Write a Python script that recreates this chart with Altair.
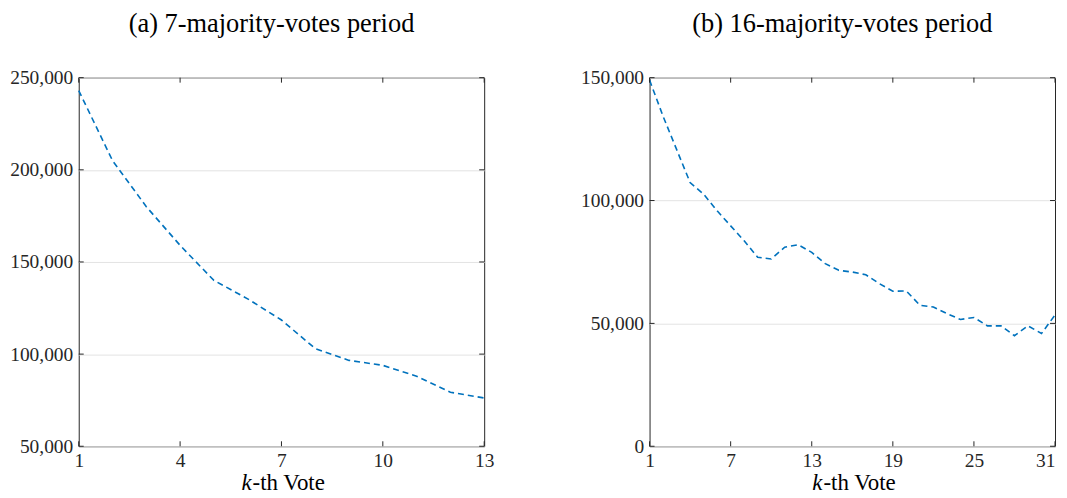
import altair as alt
import pandas as pd

FONT = "Liberation Serif"
LINE_COLOR = "#0072BD"
FRAME = "#262626"

# ---- data ----
k_a = list(range(1, 14))
v_a = [243000, 205000, 180000, 159000, 140000, 130000, 118500, 103000,
       96600, 93900, 88000, 79300, 76200]
k_b = list(range(1, 32))
v_b = [149000, 134300, 120800, 107300, 102600, 95800, 89700, 83600, 76900,
       76200, 81000, 82000, 78900, 74300, 71600, 70900, 69800, 66200, 63100,
       63200, 57400, 56700, 54000, 51600, 52400, 49000, 49000, 45000, 49000,
       45900, 53400]
xticks_a = [1, 4, 7, 10, 13]
yticks_a = [50000, 100000, 150000, 200000, 250000]
xticks_b = [1, 7, 13, 19, 25, 31]
yticks_b = [0, 50000, 100000, 150000]
title_a = "(a) 7-majority-votes period"
title_b = "(b) 16-majority-votes period"
xlabel_italic = "k"
xlabel_rest = "-th Vote"

W, H = 407, 370
TICK = 5
LBL = 19.5
XT = 23


def panel(k, v, xticks, yticks, xdom, ydom, title, last_right=False):
    df = pd.DataFrame({"k": k, "v": v})
    xs = alt.Scale(domain=xdom, nice=False, zero=False)
    ys = alt.Scale(domain=ydom, nice=False, zero=False)
    xextra = {}
    if last_right:
        xextra["labelAlign"] = alt.expr(
            "datum.value == %d ? 'right' : 'center'" % xticks[-1])
    xax = alt.Axis(
        values=xticks, title=None, grid=False, ticks=False, tickSize=0,
        domain=False, labelFont=FONT, labelFontSize=LBL,
        labelColor=FRAME, labelPadding=5, labelFlush=False,
        labelOverlap=False, format="d", **xextra)
    yax = alt.Axis(
        values=yticks, title=None, grid=True, gridColor="#e3e3e3",
        gridWidth=1, ticks=False, tickSize=0, domain=False,
        labelFont=FONT, labelFontSize=LBL, labelColor=FRAME,
        labelPadding=6, labelOverlap=False, format=",d")

    line = alt.Chart(df).mark_line(
        color=LINE_COLOR, strokeDash=[6, 4], strokeWidth=1.6
    ).encode(
        x=alt.X("k:Q", scale=xs, axis=xax),
        y=alt.Y("v:Q", scale=ys, axis=yax),
    )

    xt = pd.DataFrame({"k": xticks})
    yt = pd.DataFrame({"v": yticks})
    tick_style = dict(color=FRAME, strokeWidth=1)
    xb = alt.Chart(xt).mark_rule(**tick_style).encode(
        x=alt.X("k:Q", scale=xs, axis=xax),
        y=alt.value(H), y2=alt.value(H - TICK))
    xtop = alt.Chart(xt).mark_rule(**tick_style).encode(
        x=alt.X("k:Q", scale=xs, axis=xax),
        y=alt.value(0), y2=alt.value(TICK))
    yl = alt.Chart(yt).mark_rule(**tick_style).encode(
        y=alt.Y("v:Q", scale=ys, axis=yax),
        x=alt.value(0), x2=alt.value(TICK))
    yr = alt.Chart(yt).mark_rule(**tick_style).encode(
        y=alt.Y("v:Q", scale=ys, axis=yax),
        x=alt.value(W), x2=alt.value(W - TICK))

    one = pd.DataFrame({"a": [0]})
    split = W / 2 - 30
    t1 = alt.Chart(one).mark_text(
        font=FONT, fontSize=XT, fontStyle="italic", align="right",
        baseline="alphabetic", color="black"
    ).encode(x=alt.value(split), y=alt.value(H + 44), text=alt.value(xlabel_italic))
    t2 = alt.Chart(one).mark_text(
        font=FONT, fontSize=XT, align="left", baseline="alphabetic",
        color="black"
    ).encode(x=alt.value(split + 1), y=alt.value(H + 44), text=alt.value(xlabel_rest))

    return alt.layer(line, xb, xtop, yl, yr, t1, t2).properties(
        width=W, height=H,
        title=alt.TitleParams(
            text=title, font=FONT, fontSize=26.5, fontWeight="normal",
            color="black", offset=30.5, dx=-10, anchor="middle"),
    )


left = panel(k_a, v_a, xticks_a, yticks_a, [1, 13], [50000, 250000], title_a)
right = panel(k_b, v_b, xticks_b, yticks_b, [1, 31], [0, 150000], title_b,
              last_right=True)

chart = alt.hconcat(left, right, spacing=85).properties(
    padding={"left": 1, "top": 1, "right": 0, "bottom": 0}
).configure_view(stroke=FRAME, strokeWidth=1)

chart.save("out.html", embed_options={"renderer": "svg", "actions": False})
